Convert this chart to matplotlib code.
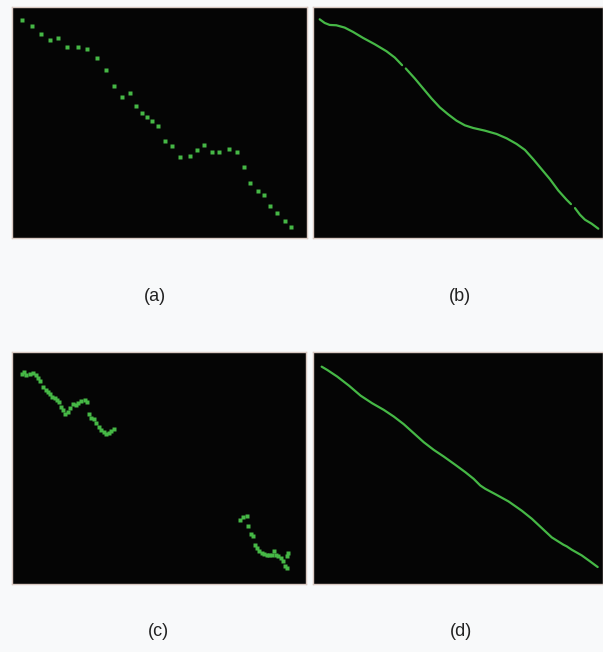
import numpy as np
import matplotlib.pyplot as plt

# Panel (a): sparse sample points (panel pixel units)
a_x = [67, 98, 125, 152, 176, 202, 234, 261, 292, 317, 343, 367, 389, 409, 425,
       442, 457, 475, 494, 515, 540, 569, 592, 612, 637, 657, 686, 710, 731, 750,
       772, 791, 810, 829, 853, 871]
a_y = [58, 78, 100, 118, 114, 139, 141, 145, 173, 210, 259, 290, 280, 318, 340,
       351, 362, 379, 422, 439, 470, 469, 449, 434, 455, 455, 446, 455, 501, 551,
       575, 587, 618, 640, 665, 681]

# Panel (b): smooth curve, NaN marks the small breaks in the line
b_x = [45, 60, 75, 95, 120, 145, 175, 210, 245, 270, 292, np.nan, 303, 330, 355,
       380, 405, 430, 455, 480, 505, 540, 575, 605, 635, 660, 685, 710, 735, 760,
       785, 798, np.nan, 810, 825, 840, 860, 880]
b_y = [57, 68, 74, 75, 82, 95, 113, 132, 153, 172, 195, np.nan, 205, 235, 265,
       295, 322, 343, 362, 376, 384, 392, 402, 415, 432, 450, 478, 508, 538, 572,
       600, 613, np.nan, 625, 645, 660, 672, 687]

# Panel (c): two clusters of dense points
c_x = [67, 72, 80, 90, 100, 108, 115, 122, 130, 138, 145, 150, 158, 165, 172,
       178, 183, 190, 197, 205, 212, 220, 228, 235, 245, 255, 262, 268, 275, 282,
       290, 297, 305, 312, 320, 328, 335, 342,
       720, 730, 740, 745, 752, 758, 765, 770, 778, 785, 792, 800, 808, 815, 822,
       828, 835, 842, 850, 855, 860, 862, 865]
c_y = [58, 52, 60, 58, 55, 60, 70, 78, 95, 105, 110, 118, 125, 130, 135,
       140, 155, 165, 178, 170, 160, 148, 150, 145, 138, 135, 140, 178, 190, 192,
       205, 215, 225, 232, 238, 235, 228, 222,
       495, 488, 485, 515, 538, 545, 570, 580, 590, 595, 598, 600, 600, 602, 590,
       600, 605, 610, 620, 635, 640, 605, 595]

# Panel (d): near-straight curve
d_x = [48, 65, 95, 130, 165, 200, 235, 265, 295, 325, 355, 385, 415, 450, 480,
       505, 525, 540, 570, 610, 650, 680, 710, 740, 775, 785, 800, 830, 855, 878]
d_y = [35, 45, 65, 92, 122, 145, 165, 185, 208, 235, 262, 285, 305, 330, 352,
       372, 392, 402, 418, 440, 468, 492, 520, 548, 570, 575, 585, 602, 620, 637]

labels = ['(a)', '(b)', '(c)', '(d)']

green = '#46b846'
bg = '#050505'
edge = '#d9c9c2'

fig = plt.figure(figsize=(6.03, 6.52), dpi=100)
fig.patch.set_facecolor('#f8f9fa')

W, H = 603.0, 652.0
# axes boxes in figure pixels: left, top, right, bottom
boxes = [(12, 7, 307, 238), (313, 7, 603, 238),
         (12, 352, 306, 584), (313, 352, 603, 584)]
limits = [((37, 920), (715, 20)), ((25, 894), (715, 20)),
          ((37, 918), (688, -9)), ((22, 894), (688, -9))]

axes = []
for (l, t, r, b), (xl, yl) in zip(boxes, limits):
    ax = fig.add_axes([l / W, 1 - b / H, (r - l) / W, (b - t) / H])
    ax.set_facecolor(bg)
    ax.set_xlim(*xl)
    ax.set_ylim(*yl)
    ax.set_xticks([])
    ax.set_yticks([])
    for s in ax.spines.values():
        s.set_color(edge)
        s.set_linewidth(1.0)
    axes.append(ax)

axes[0].plot(a_x, a_y, 's', color=green, ms=2.6, mec='none')
axes[1].plot(b_x, b_y, '-', color=green, lw=1.6, solid_capstyle='round')
axes[2].plot(c_x, c_y, 's', color=green, ms=3.0, mec='none')
axes[3].plot(d_x, d_y, '-', color=green, lw=1.6, solid_capstyle='round')

# sub-figure captions
label_pos = [(155, 297), (460, 297), (158, 632), (461, 632)]
for lab, (px, py) in zip(labels, label_pos):
    fig.text(px / W, 1 - py / H, lab, ha='center', va='center',
             fontsize=13, family='Liberation Sans', color='#222222')

fig.savefig('out.png', dpi=100, facecolor=fig.get_facecolor())
